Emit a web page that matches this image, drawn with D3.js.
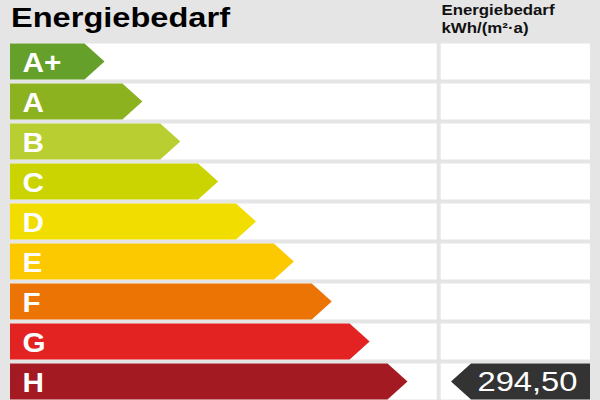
<!DOCTYPE html>
<html>
<head>
<meta charset="utf-8">
<script src="https://cdn.jsdelivr.net/npm/d3@7"></script>
<style>
  html, body { margin: 0; padding: 0; background: #e5e5e5; }
  svg { display: block; }
  text { font-family: "Liberation Sans", Arial, sans-serif; }
</style>
</head>
<body>
<script>
// ---- data ----
const title = "Energiebedarf";
const headerLines = ["Energiebedarf", "kWh/(m²·a)"];
const classes = ["A+", "A", "B", "C", "D", "E", "F", "G", "H"];
const classColors = ["#64a02a", "#8cb21f", "#b9ce30", "#cbd300", "#f1de00", "#fcc800", "#ec7405", "#e32322", "#a31a22"];
const value = 294.50;
const valueClass = "H";

// ---- setup ----
const W = 600, H = 400;
const svg = d3.select("body").append("svg").attr("width", W).attr("height", H);
svg.append("rect").attr("width", W).attr("height", H).attr("fill", "#e5e5e5");

const y = d3.scaleBand().domain(classes).range([43.5, 399.5]).paddingInner(0.1).paddingOuter(0);
const xTip = d3.scaleLinear().domain([0, classes.length - 1]).range([104.5, 407.5]);
const colLeft = [10, 436.7], colRight = [440.7, 590];
const slant = 20;
const fmt = d3.formatLocale({decimal: ",", thousands: ".", grouping: [3], currency: ["", "€"]}).format(".2f");

// title
svg.append("text").attr("x", 11).attr("y", 26.7)
  .attr("font-size", 28).attr("font-weight", "bold").attr("fill", "#000")
  .attr("textLength", 219).attr("lengthAdjust", "spacingAndGlyphs")
  .text(title);

// header right
svg.selectAll("text.hdr").data(headerLines).join("text").attr("class", "hdr")
  .attr("x", 441.5).attr("y", (d, i) => i === 0 ? 15 : 33)
  .attr("font-size", 15).attr("font-weight", "bold").attr("fill", "#111")
  .attr("textLength", (d, i) => i === 0 ? 113 : 87).attr("lengthAdjust", "spacingAndGlyphs")
  .text(d => d);

// rows
const rows = svg.selectAll("g.row").data(classes).join("g").attr("class", "row");
rows.append("rect").attr("x", colLeft[0]).attr("y", d => y(d))
  .attr("width", colLeft[1] - colLeft[0]).attr("height", y.bandwidth()).attr("fill", "#fff");
rows.append("rect").attr("x", colRight[0]).attr("y", d => y(d))
  .attr("width", colRight[1] - colRight[0]).attr("height", y.bandwidth()).attr("fill", "#fff");

// arrows
rows.append("path")
  .attr("d", (d, i) => {
    const t = y(d), b = t + y.bandwidth(), m = t + y.bandwidth() / 2, tip = xTip(i);
    return `M${colLeft[0]},${t}L${tip - slant},${t}L${tip},${m}L${tip - slant},${b}L${colLeft[0]},${b}Z`;
  })
  .attr("fill", (d, i) => classColors[i]);

rows.append("text")
  .attr("transform", d => `translate(22.5,${y(d) + 28.5}) scale(1.1,1)`)
  .attr("font-size", 27).attr("font-weight", "bold").attr("fill", "#fff")
  .text(d => d);

// value marker
const vt = y(valueClass), vb = vt + y.bandwidth(), vm = vt + y.bandwidth() / 2;
const vTip = 451, vRight = 590;
svg.append("path")
  .attr("d", `M${vTip},${vm}L${vTip + slant},${vt}L${vRight},${vt}L${vRight},${vb}L${vTip + slant},${vb}Z`)
  .attr("fill", "#333333");
svg.append("text").attr("x", 477.5).attr("y", vt + 27)
  .attr("font-size", 27).attr("fill", "#fff")
  .attr("textLength", 100).attr("lengthAdjust", "spacingAndGlyphs")
  .text(fmt(value));
</script>
</body>
</html>
